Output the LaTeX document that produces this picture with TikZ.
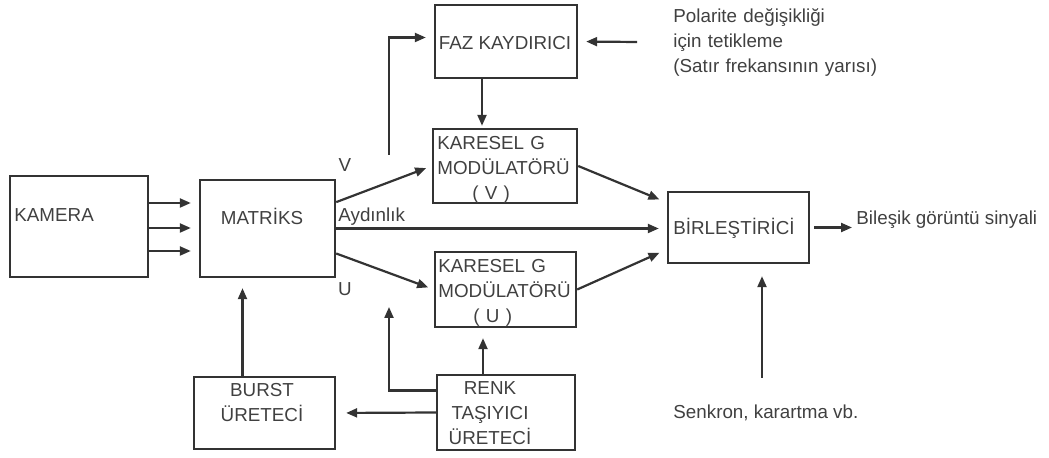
\documentclass[tikz,border=0pt]{standalone}
\usepackage{fontspec}
\setmainfont{Liberation Sans}
\usetikzlibrary{arrows.meta,calc}

\begin{document}
\begin{tikzpicture}[x=0.5pt, y=-0.5pt,
				block/.style={
				% The shape:
				rectangle,
				% The border:
				line width=1.2pt,
				draw=black!80,
				% The text goes in its own node:
				inner sep=0pt
				},
				caption/.style={
				% The text:
				inner sep=0pt,
				text=black!75
				},
				link/.style={
				% The line:
				line width=1.1pt,
				draw=black!80,
				% The head:
				-{Triangle[length=5.5pt,width=4.5pt]}
				},
				]
    \tikzstyle{every node} = [font=\fontsize{9.4}{12.3}\selectfont]
    \useasboundingbox (0,0) rectangle (1049,458);

    % the boxes
    \node [block, minimum width=69pt, minimum height=50.5pt] (kamera) at (79,226.5) {};
    \node [block, minimum width=67.5pt, minimum height=48.5pt] (matriks) at (267.5,228.5) {};
    \node [block, minimum width=71pt, minimum height=36.5pt] (faz) at (506,41.5) {};
    \node [block, minimum width=72pt, minimum height=37pt] (karV) at (505,166) {};
    \node [block, minimum width=70.5pt, minimum height=37.5pt] (karU) at (505.5,289.5) {};
    \node [block, minimum width=70.5pt, minimum height=35.5pt] (birl) at (738.5,227.5) {};
    \node [block, minimum width=69pt, minimum height=37.5pt] (renk) at (506,412.5) {};
    \node [block, minimum width=70.5pt, minimum height=36pt] (burst) at (264.5,413) {};

    % the texts
    \node [caption, anchor=base west] (kamera-t) at (14,222) {KAMERA};
    \node [caption, anchor=base] (matriks-t) at (262,225) {MATRİKS};
    \node [caption, anchor=base] (faz-t) at (505,50) {FAZ KAYDIRICI};
    \node [caption, anchor=base west, text width=72pt, align=left] (karV-t) at (437,150)
        {KARESEL G\\MODÜLATÖRÜ\\\hspace*{17.5pt}( V )};
    \node [caption, anchor=base west, text width=72pt, align=left] (karU-t) at (438,273)
        {KARESEL G\\MODÜLATÖRÜ\\\hspace*{17.5pt}( U )};
    \node [caption, anchor=base west] (birl-t) at (673,235) {BİRLEŞTİRİCİ};
    \node [caption, anchor=base, text width=60pt, align=center] (renk-t) at (490,395)
        {RENK\\TAŞIYICI\\ÜRETECİ};
    \node [caption, anchor=base, text width=60pt, align=center] (burst-t) at (262,397)
        {BURST\\ÜRETECİ};
    \node [caption, anchor=base] (v-t) at (345,172) {V};
    \node [caption, anchor=base] (u-t) at (345,296) {U};
    \node [caption, anchor=base west] (luma) at (338,222) {Aydınlık};
    \node [caption, anchor=base west, text width=110pt, align=left] (trig-t) at (673,23)
        {Polarite değişikliği\\için tetikleme\\(Satır frekansının yarısı)};
    \node [caption, anchor=base west] (out) at (856,225) {Bileşik görüntü sinyali};
    \node [caption, anchor=base west] (senk) at (673,419) {Senkron, karartma vb.};

    % free ends and taps
    \coordinate (trig) at (637,42);
    \coordinate (vtap) at (389,155);
    \coordinate (ctap) at (389,307);
    \coordinate (sync) at (762,378);
    \coordinate (fazout) at ([xshift=-12pt]faz.south);
    \coordinate (renkout) at ([xshift=-11.5pt]renk.north);
    \coordinate (burstout) at ([xshift=-11pt]burst.north);

    % the connectors
    \foreach \y in {203,228,251}
        \draw [link, shorten >=4pt] (kamera.east |- 0,\y) -- (matriks.west |- 0,\y);
    \draw [link, shorten >=3pt] (matriks.21) -- (karV.west);
    \draw [link, shorten >=3pt] (matriks.-20) -- (karU.west);
    \draw [link, shorten >=4pt] (matriks.east) -- (birl.west |- matriks.east);
    \draw [link, shorten >=4pt] (karV.east) -- ([yshift=12.5pt]birl.west);
    \draw [link, shorten >=4pt] (karU.east) -- ([yshift=-11pt]birl.west);
    \draw [link, shorten <=2pt, shorten >=2pt] (birl.east) -- (birl.east -| out.west);
    \draw [link, shorten >=6pt] (sync) -- (sync |- birl.south);
    \draw [link, shorten >=4pt] (trig) -- (faz.east);
    \draw [link, shorten >=1pt] (fazout) -- (fazout |- karV.north);
    \draw [link, shorten >=4pt] (vtap) |- ([yshift=2pt]faz.west);
    \draw [link, shorten >=5pt] (renkout) -- (renkout |- karU.south);
    \draw [link] ([yshift=11pt]renk.west) -| (ctap);
    \draw [link, shorten >=5pt] (renk.west) -- (burst.east);
    \draw [link, shorten >=5pt] (burstout) -- (burstout |- matriks.south);
\end{tikzpicture}
\end{document}
